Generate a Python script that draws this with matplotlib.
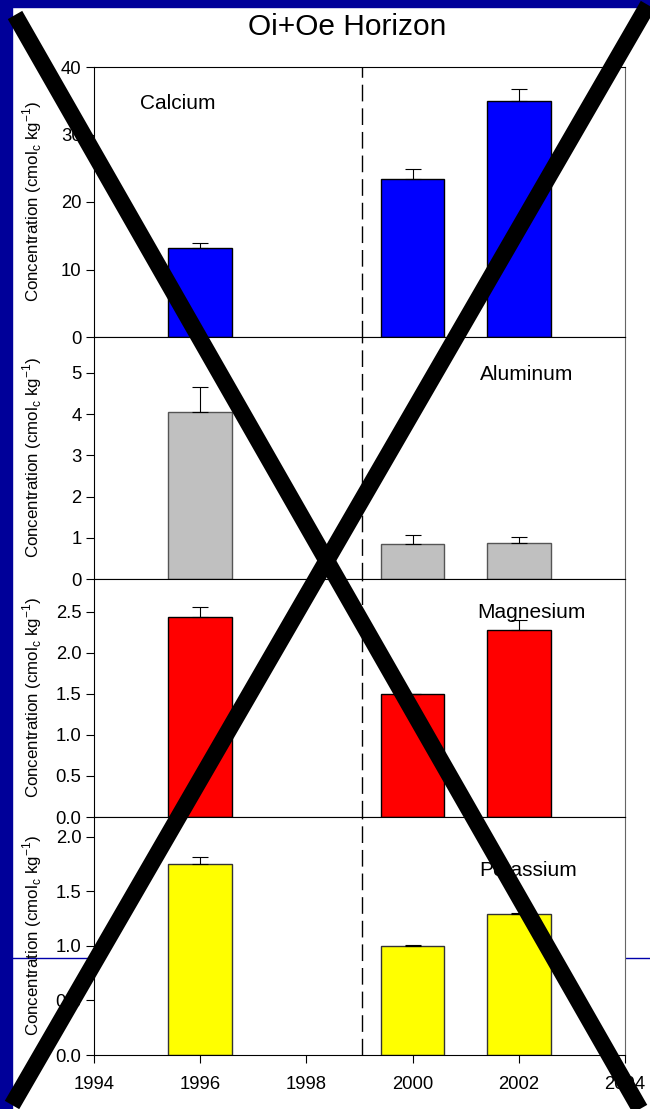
import matplotlib
matplotlib.use("Agg")
import matplotlib.pyplot as plt
from matplotlib.lines import Line2D
from matplotlib.patches import Rectangle

plt.rcParams['font.family'] = ['Liberation Sans', 'DejaVu Sans']

# sampling years and element concentrations (cmolc/kg), upper error only
years = [1996, 2000, 2002]
calcium = [13.2, 23.4, 35.0]
calcium_err = [0.7, 1.5, 1.7]
aluminum = [4.05, 0.85, 0.87]
aluminum_err = [0.6, 0.22, 0.15]
magnesium = [2.44, 1.50, 2.28]
magnesium_err = [0.12, 0.0, 0.12]
potassium = [1.75, 1.00, 1.29]
potassium_err = [0.06, 0.01, 0.01]

panels = [
    ("Calcium", calcium, calcium_err, "#0000ff", "black", (0, 40), [0, 10, 20, 30, 40], "{:.0f}", (0.087, 0.863)),
    ("Aluminum", aluminum, aluminum_err, "#c0c0c0", "#555555", (0, 5.87), [0, 1, 2, 3, 4, 5], "{:.0f}", (0.727, 0.843)),
    ("Magnesium", magnesium, magnesium_err, "#ff0000", "black", (0, 2.9), [0, 0.5, 1, 1.5, 2, 2.5], "{:.1f}", (0.721, 0.861)),
    ("Potassium", potassium, potassium_err, "#ffff00", "#333333", (0, 2.18), [0, 0.5, 1, 1.5, 2], "{:.1f}", (0.725, 0.777)),
]
treatment_year = 1999.05

fig = plt.figure(figsize=(6.5, 11.09), dpi=100)
fig.patch.set_facecolor("white")

# slide background: navy border strips and a thin rule
fig.add_artist(Rectangle((0, 0), 12 / 650, 1, transform=fig.transFigure, color="#000099", zorder=-3))
fig.add_artist(Rectangle((0, 1 - 7 / 1109), 1, 7 / 1109, transform=fig.transFigure, color="#000099", zorder=-3))
fig.add_artist(Line2D([12 / 650, 1], [1 - 958 / 1109] * 2, transform=fig.transFigure, color="#0000aa", lw=1, zorder=-2))

left, width = 94 / 650, 531 / 650
tops = [67, 337, 579, 817]
bottoms = [337, 579, 817, 1055]

axes = []
for i, (name, vals, errs, fc, ec, ylim, yticks, fmt, txt) in enumerate(panels):
    top, bot = tops[i], bottoms[i]
    ax = fig.add_axes([left, 1 - bot / 1109, width, (bot - top) / 1109])
    ax.bar(years, vals, width=1.2, color=fc, edgecolor=ec, linewidth=1, zorder=2)
    ax.errorbar(years, vals, yerr=[[0] * len(errs), errs], fmt="none", ecolor="black",
                elinewidth=0.8, capsize=6, capthick=0.8, zorder=3)
    ax.axvline(treatment_year, color="black", lw=1, dashes=(12, 5), zorder=1)
    ax.set_xlim(1994, 2004)
    ax.set_ylim(*ylim)
    ax.set_yticks(yticks)
    ax.set_yticklabels([fmt.format(v) for v in yticks])
    ax.tick_params(axis="y", direction="out", length=6, labelsize=13.3, pad=3)
    ax.set_xticks([1994, 1996, 1998, 2000, 2002, 2004])
    if i < 3:
        ax.tick_params(axis="x", bottom=False, labelbottom=False)
    else:
        ax.tick_params(axis="x", direction="out", length=6, labelsize=13.3, pad=9)
    ax.spines["right"].set_color("#666666")
    for s in ("left", "top", "bottom"):
        ax.spines[s].set_color("black")
    ax.text(txt[0], txt[1], name, transform=ax.transAxes, fontsize=15, va="center", ha="left", zorder=4)
    ax.set_ylabel("Concentration (cmol$_\\mathregular{c}$ kg$^\\mathregular{-1}$)", fontsize=12.2)
    ax.yaxis.set_label_coords(-0.094, 0.5)
    axes.append(ax)

fig.text(0.534, 1 - 27 / 1109, "Oi+Oe Horizon", ha="center", va="center", fontsize=21.5)

# crossed-out overlay
fig.add_artist(Line2D([15 / 650, 640 / 650], [1 - 15 / 1109, 1 - 1109 / 1109],
                      transform=fig.transFigure, color="black", lw=12, solid_capstyle="butt", zorder=10))
fig.add_artist(Line2D([648 / 650, 12 / 650], [1 - 5 / 1109, 1 - 1105 / 1109],
                      transform=fig.transFigure, color="black", lw=12, solid_capstyle="butt", zorder=10))

fig.savefig("out.png", dpi=100)
